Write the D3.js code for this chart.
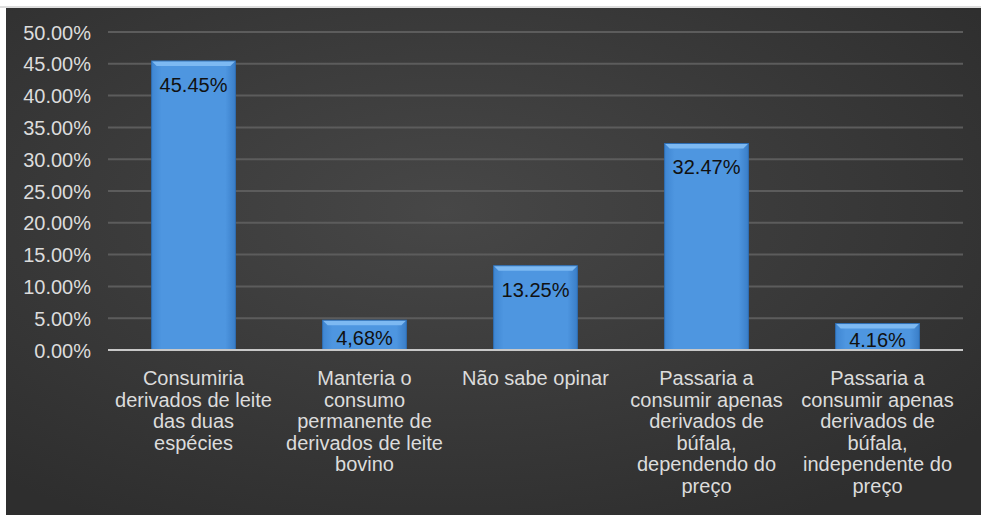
<!DOCTYPE html>
<html><head><meta charset="utf-8">
<script src="https://cdn.jsdelivr.net/npm/d3@7"></script>
<style>html,body{margin:0;padding:0;background:#fff;}svg{display:block;}</style>
</head><body>
<svg id="c" width="981" height="515"></svg>
<script>
const categories = [
  ["Consumiria","derivados de leite","das duas","espécies"],
  ["Manteria o","consumo","permanente de","derivados de leite","bovino"],
  ["Não sabe opinar"],
  ["Passaria a","consumir apenas","derivados de","búfala,","dependendo do","preço"],
  ["Passaria a","consumir apenas","derivados de","búfala,","independente do","preço"]
];
const values = [45.45, 4.68, 13.25, 32.47, 4.16];
const valueLabels = ["45.45%", "4,68%", "13.25%", "32.47%", "4.16%"];
const yTicks = [0,5,10,15,20,25,30,35,40,45,50];

const svg = d3.select("#c");
const defs = svg.append("defs");
const rg = defs.append("radialGradient").attr("id","bg").attr("cx","45%").attr("cy","40%").attr("r","70%");
rg.append("stop").attr("offset","0%").attr("stop-color","#474747");
rg.append("stop").attr("offset","100%").attr("stop-color","#2e2e2e");
const bg = defs.append("linearGradient").attr("id","bar").attr("x1","0").attr("x2","1").attr("y1","0").attr("y2","0");
bg.append("stop").attr("offset","0%").attr("stop-color","#3f86d2");
bg.append("stop").attr("offset","12%").attr("stop-color","#4e96e0");
bg.append("stop").attr("offset","88%").attr("stop-color","#4e96e0");
bg.append("stop").attr("offset","100%").attr("stop-color","#3a7ec8");

// panel
svg.append("line").attr("x1",0).attr("x2",981).attr("y1",7).attr("y2",7).attr("stroke","#bbb").attr("stroke-width",1);
svg.append("rect").attr("x",6).attr("y",8).attr("width",975).attr("height",507).attr("fill","url(#bg)");

const x = d3.scaleBand().domain(d3.range(values.length)).range([108,963]).paddingInner(0.51).paddingOuter(0.255);
const y = d3.scaleLinear().domain([0,50]).range([350,32]);

// gridlines
svg.append("g").selectAll("line").data(yTicks.filter(t=>t>0)).join("line")
  .attr("x1",108).attr("x2",963).attr("y1",d=>y(d)).attr("y2",d=>y(d))
  .attr("stroke","#5c5c5c").attr("stroke-width",2);

// y axis labels
const yAxis = d3.axisLeft(y).tickValues(yTicks).tickFormat(d=>d.toFixed(2)+"%").tickSize(0).tickPadding(0);
const ya = svg.append("g").attr("transform","translate(91,0)").call(yAxis);
ya.select(".domain").remove();
ya.selectAll("text").attr("fill","#dcdcdc").attr("font-family","Liberation Sans, Arial, sans-serif").attr("font-size",20).attr("dy","0.35em");

// bars
const bw = x.bandwidth();
const bars = svg.append("g").selectAll("g").data(values).join("g");
bars.append("rect").attr("x",(d,i)=>x(i)).attr("y",d=>y(d)).attr("width",bw).attr("height",d=>y(0)-y(d)).attr("fill","url(#bar)");
bars.append("path").attr("d",(d,i)=>{
  const x0=x(i), x1=x(i)+bw, t=y(d), b=5;
  return `M${x0},${t}L${x1},${t}L${x1-b},${t+b}L${x0+b},${t+b}Z`;
}).attr("fill","#7db9f2");
bars.append("rect").attr("x",(d,i)=>x(i)).attr("y",d=>y(d)).attr("width",bw).attr("height",d=>y(0)-y(d))
  .attr("fill","none").attr("stroke","#2f6fb5").attr("stroke-width",1);

// value labels
svg.append("g").selectAll("text").data(values).join("text")
  .attr("x",(d,i)=>x(i)+bw/2)
  .attr("y",d=>Math.min(y(d)+24,(y(d)+y(0))/2+3))
  .attr("dy","0.35em").attr("text-anchor","middle")
  .attr("font-family","Liberation Sans, Arial, sans-serif").attr("font-size",20).attr("fill","#111")
  .text((d,i)=>valueLabels[i]);

// baseline
svg.append("line").attr("x1",108).attr("x2",963).attr("y1",y(0)).attr("y2",y(0)).attr("stroke","#c8c8c8").attr("stroke-width",2);

// category labels
const cat = svg.append("g").selectAll("text").data(categories).join("text")
  .attr("text-anchor","middle").attr("font-family","Liberation Sans, Arial, sans-serif")
  .attr("font-size",20).attr("fill","#dcdcdc");
cat.each(function(lines,i){
  d3.select(this).selectAll("tspan").data(lines).join("tspan")
    .attr("x",x(i)+bw/2).attr("y",(l,j)=>378+j*21.5).attr("dy","0.35em").text(l=>l);
});
</script>
</body></html>
